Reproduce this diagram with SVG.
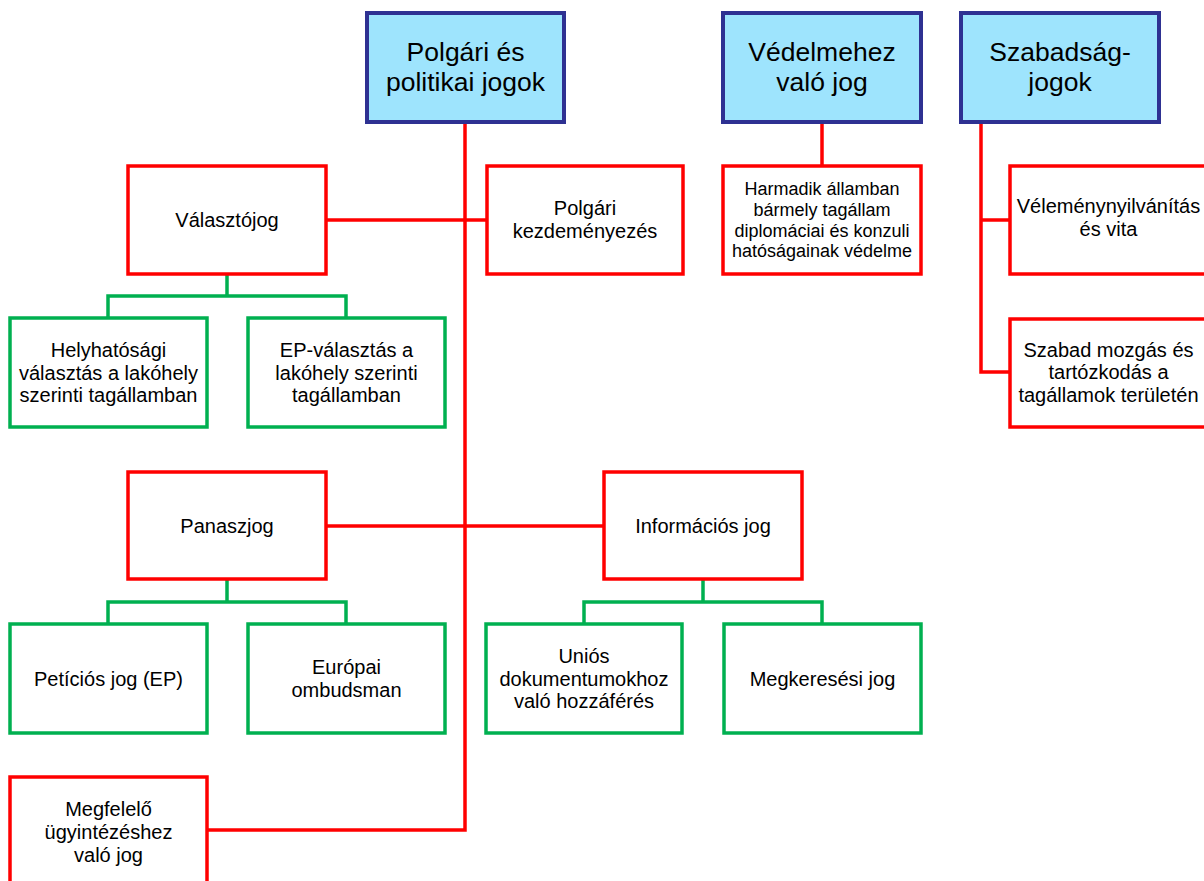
<svg xmlns="http://www.w3.org/2000/svg" width="1204" height="881" viewBox="0 0 1204 881">
<style>
text{font-family:"Liberation Sans",Arial,sans-serif;fill:#000;text-anchor:middle}
.top rect{fill:#9EE4FD;stroke:#2E3192;stroke-width:4}
.top text{font-size:26.5px}
.red rect{fill:#fff;stroke:#FF0000;stroke-width:3.5}
.green rect{fill:#fff;stroke:#00B050;stroke-width:3.5}
.n text{font-size:20px}
.sm text{font-size:18px}
.cr{fill:none;stroke:#FF0000;stroke-width:3.5}
.cg{fill:none;stroke:#00B050;stroke-width:3.5}
</style>
<rect width="1204" height="881" fill="#fff"/>
<g id="connectors">
<path class="cr" d="M465,122V830H207"/>
<path class="cr" d="M326,220H487"/>
<path class="cr" d="M326,526H604"/>
<path class="cr" d="M822,122V166"/>
<path class="cr" d="M981,122V372H1010M981,220H1010"/>
<path class="cg" d="M227,274V296M108,318V296H346V318"/>
<path class="cg" d="M227,579V602M108,624V602H346V624"/>
<path class="cg" d="M703,579V602M584,624V602H822V624"/>
</g>
<g id="polgari" class="top"><rect x="367" y="13" width="197" height="109"/><text x="465.5" y="61">Polgári és</text><text x="465.5" y="91">politikai jogok</text></g>
<g id="vedelem" class="top"><rect x="723" y="13" width="198" height="109"/><text x="822" y="61">Védelmehez</text><text x="822" y="91">való jog</text></g>
<g id="szabadsag" class="top"><rect x="961" y="13" width="198" height="109"/><text x="1060" y="61">Szabadság-</text><text x="1060" y="91">jogok</text></g>
<g id="valasztojog" class="red n"><rect x="128" y="166" width="198" height="108"/><text x="227" y="227">Választójog</text></g>
<g id="polgari-kezd" class="red n"><rect x="487" y="166" width="196" height="108"/><text x="585" y="215">Polgári</text><text x="585" y="238">kezdeményezés</text></g>
<g id="harmadik" class="red sm"><rect x="723" y="166" width="198" height="108"/><text x="822" y="195">Harmadik államban</text><text x="822" y="216">bármely tagállam</text><text x="822" y="237">diplomáciai és konzuli</text><text x="822" y="257">hatóságainak védelme</text></g>
<g id="velemeny" class="red n"><rect x="1010" y="166" width="197" height="108"/><text x="1108.5" y="213">Véleménynyilvánítás</text><text x="1108.5" y="236">és vita</text></g>
<g id="szabad-mozgas" class="red n"><rect x="1010" y="319" width="197" height="108"/><text x="1108.5" y="357">Szabad mozgás és</text><text x="1108.5" y="379">tartózkodás a</text><text x="1108.5" y="402">tagállamok területén</text></g>
<g id="helyhatosagi" class="green n"><rect x="10" y="318" width="197" height="109"/><text x="108.5" y="357">Helyhatósági</text><text x="108.5" y="380">választás a lakóhely</text><text x="108.5" y="402">szerinti tagállamban</text></g>
<g id="ep-valasztas" class="green n"><rect x="248" y="318" width="197" height="109"/><text x="346.5" y="357">EP-választás a</text><text x="346.5" y="380">lakóhely szerinti</text><text x="346.5" y="402">tagállamban</text></g>
<g id="panaszjog" class="red n"><rect x="128" y="472" width="198" height="107"/><text x="227" y="533">Panaszjog</text></g>
<g id="informacios" class="red n"><rect x="604" y="472" width="198" height="107"/><text x="703" y="533">Információs jog</text></g>
<g id="peticios" class="green n"><rect x="10" y="624" width="197" height="109"/><text x="108.5" y="686">Petíciós jog (EP)</text></g>
<g id="ombudsman" class="green n"><rect x="248" y="624" width="197" height="109"/><text x="346.5" y="674">Európai</text><text x="346.5" y="697">ombudsman</text></g>
<g id="unios" class="green n"><rect x="486" y="624" width="196" height="109"/><text x="584" y="663">Uniós</text><text x="584" y="686">dokumentumokhoz</text><text x="584" y="708">való hozzáférés</text></g>
<g id="megkeresesi" class="green n"><rect x="724" y="624" width="197" height="109"/><text x="822.5" y="686">Megkeresési jog</text></g>
<g id="megfelelo" class="red n"><rect x="10" y="777" width="197" height="109"/><text x="108.5" y="816">Megfelelő</text><text x="108.5" y="839">ügyintézéshez</text><text x="108.5" y="862">való jog</text></g>
</svg>
